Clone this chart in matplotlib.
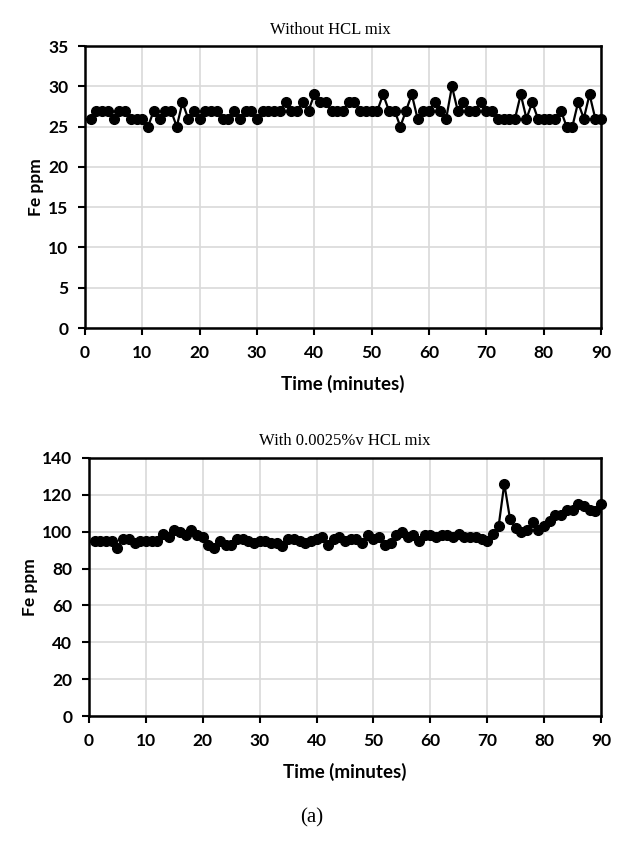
import matplotlib
matplotlib.use('Agg')

import matplotlib.pyplot as plt

time = list(range(1, 91))

fe_without = [26, 27, 27, 27, 26, 27, 27, 26, 26, 26,
              25, 27, 26, 27, 27, 25, 28, 26, 27, 26,
              27, 27, 27, 26, 26, 27, 26, 27, 27, 26,
              27, 27, 27, 27, 28, 27, 27, 28, 27, 29,
              28, 28, 27, 27, 27, 28, 28, 27, 27, 27,
              27, 29, 27, 27, 25, 27, 29, 26, 27, 27,
              28, 27, 26, 30, 27, 28, 27, 27, 28, 27,
              27, 26, 26, 26, 26, 29, 26, 28, 26, 26,
              26, 26, 27, 25, 25, 28, 26, 29, 26, 26]

fe_with = [95, 95, 95, 95, 91, 96, 96, 94, 95, 95,
           95, 95, 99, 97, 101, 100, 98, 101, 98, 97,
           93, 91, 95, 93, 93, 96, 96, 95, 94, 95,
           95, 94, 94, 92, 96, 96, 95, 94, 95, 96,
           97, 93, 96, 97, 95, 96, 96, 94, 98, 96,
           97, 93, 94, 98, 100, 97, 98, 95, 98, 98,
           97, 98, 98, 97, 99, 97, 97, 97, 96, 95,
           99, 103, 126, 107, 102, 100, 101, 105, 101, 103,
           106, 109, 109, 112, 112, 115, 114, 112, 111, 115]

tick_font = 'Lato'
title_font = 'Liberation Serif'

fig = plt.figure(figsize=(6.23, 8.61), dpi=100)
ax1 = fig.add_axes([0.1364, 0.619, 0.8283, 0.3275])
ax2 = fig.add_axes([0.1429, 0.1684, 0.8218, 0.2997])

panels = [(ax1, fe_without, 35, 5, 'Without HCL mix', 0.475),
          (ax2, fe_with, 140, 20, 'With 0.0025%v HCL mix', 0.5)]

for ax, fe, ymax, ystep, title, tx in panels:
	ax.plot(time, fe, color='black', linewidth=1.6, marker='o',
	        markersize=7, zorder=3, clip_on=False)
	ax.set_xlim(0, 90)
	ax.set_ylim(0, ymax)
	ax.set_xticks(range(0, 91, 10))
	ax.set_yticks(range(0, ymax + 1, ystep))
	ax.grid(True, color='#d9d9d9', linewidth=1.2)
	ax.set_axisbelow(True)
	for s in ax.spines.values():
		s.set_linewidth(1.8)
		s.set_color('black')
	ax.tick_params(axis='both', direction='out', length=5, width=1.5,
	               labelsize=12.5, pad=7)
	for lab in ax.get_xticklabels() + ax.get_yticklabels():
		lab.set_fontfamily(tick_font)
		lab.set_fontweight('bold')
	ax.set_xlabel('Time (minutes)', fontsize=13.5, fontweight='bold',
	              fontfamily=tick_font, labelpad=10)
	ax.set_ylabel('Fe ppm', fontsize=12.5, fontweight='bold',
	              fontfamily=tick_font, labelpad=3)
	ax.set_title(title, fontsize=12, fontfamily=title_font, pad=9, x=tx)

fig.text(0.5, 0.05, '(a)', ha='center', va='center', fontsize=15,
         fontfamily=title_font)

fig.savefig('out.png', dpi=100)
